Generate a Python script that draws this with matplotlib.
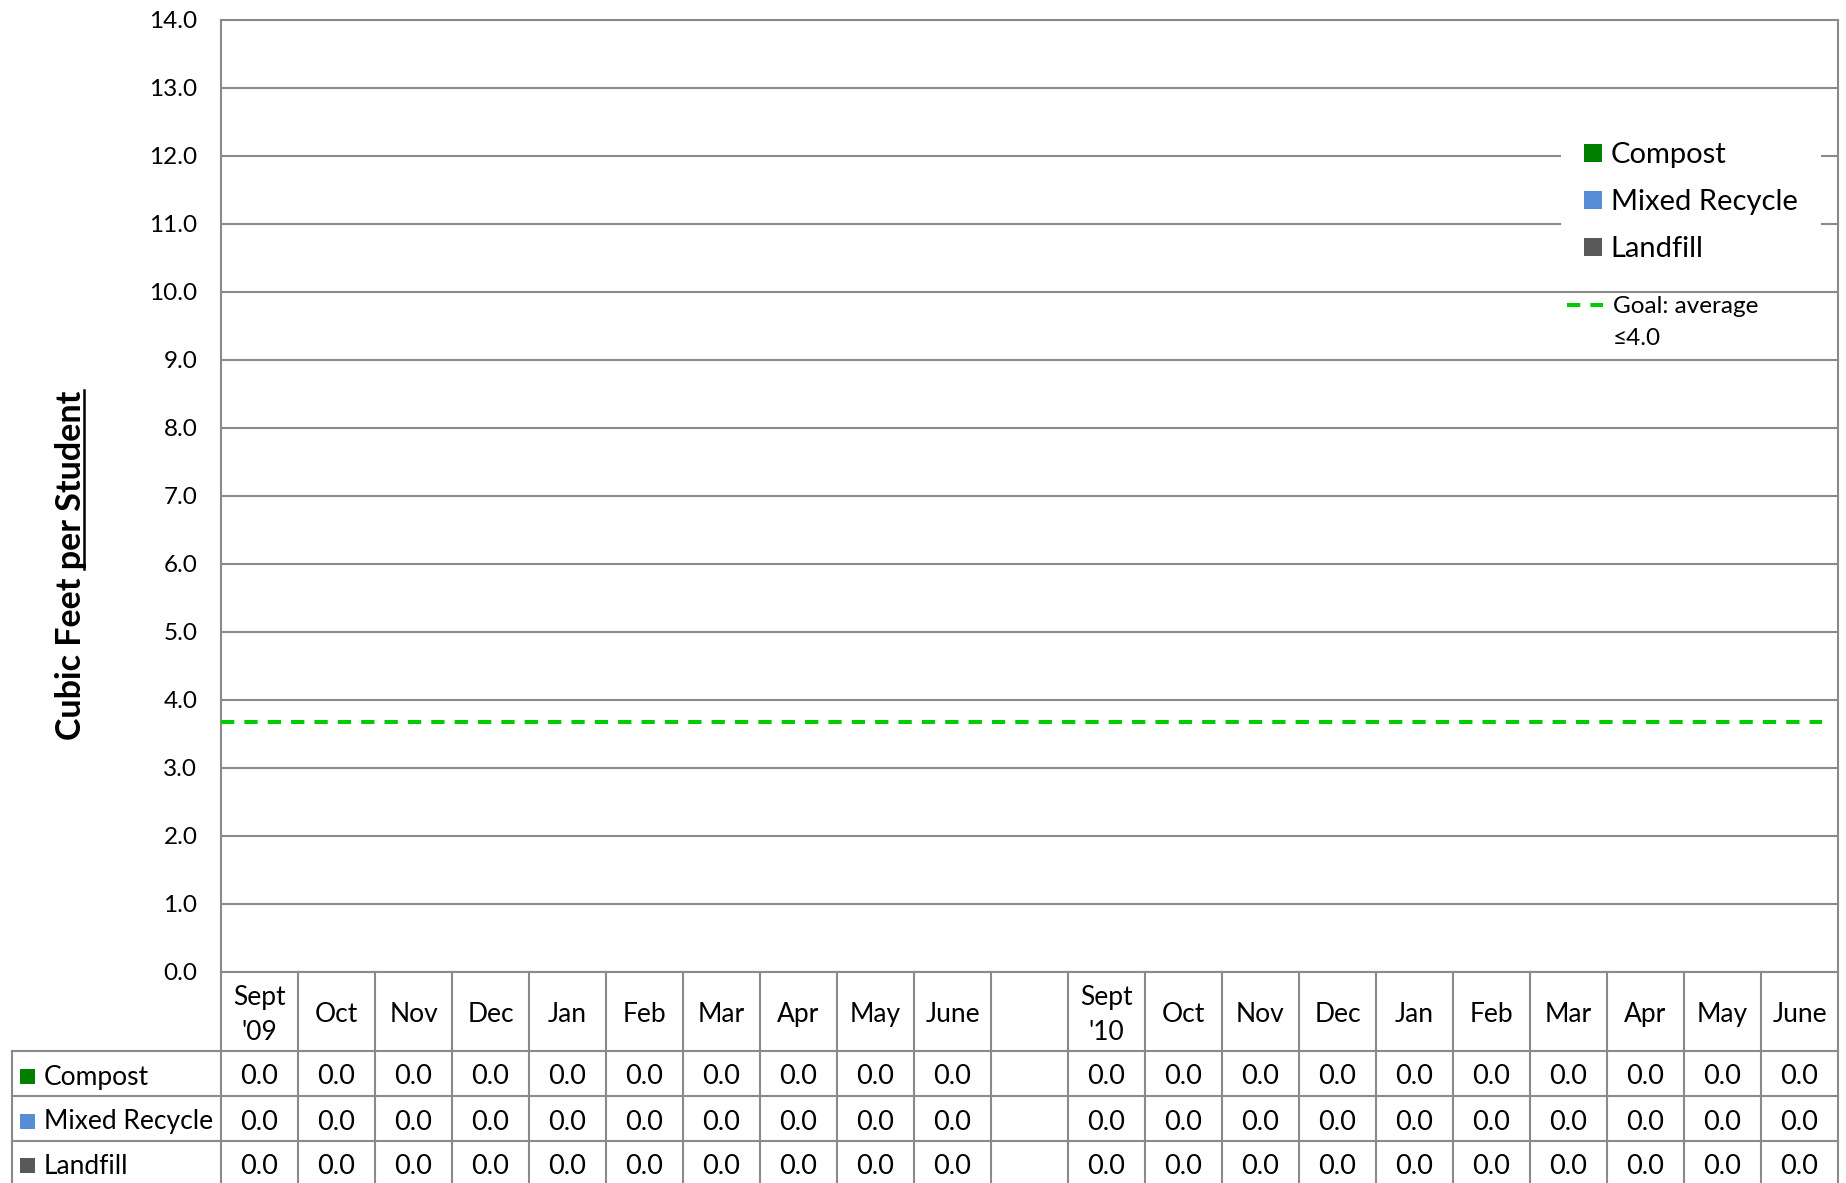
import numpy as np
import matplotlib
matplotlib.use("Agg")
import matplotlib.pyplot as plt
from matplotlib.patches import Rectangle
from matplotlib.lines import Line2D

plt.rcParams["font.family"] = ["Lato", "DejaVu Sans"]

# ---- data -------------------------------------------------------------
months = ["Sept\n'09", "Oct", "Nov", "Dec", "Jan", "Feb", "Mar", "Apr", "May", "June",
          "",
          "Sept\n'10", "Oct", "Nov", "Dec", "Jan", "Feb", "Mar", "Apr", "May", "June"]
compost = [0.0, 0.0, 0.0, 0.0, 0.0, 0.0, 0.0, 0.0, 0.0, 0.0,
           None,
           0.0, 0.0, 0.0, 0.0, 0.0, 0.0, 0.0, 0.0, 0.0, 0.0]
mixed_recycle = [0.0, 0.0, 0.0, 0.0, 0.0, 0.0, 0.0, 0.0, 0.0, 0.0,
                 None,
                 0.0, 0.0, 0.0, 0.0, 0.0, 0.0, 0.0, 0.0, 0.0, 0.0]
landfill = [0.0, 0.0, 0.0, 0.0, 0.0, 0.0, 0.0, 0.0, 0.0, 0.0,
            None,
            0.0, 0.0, 0.0, 0.0, 0.0, 0.0, 0.0, 0.0, 0.0, 0.0]
series_names = ["Compost", "Mixed Recycle", "Landfill"]
series_colors = ["#008000", "#558ED5", "#595959"]
goal_value = 3.67
goal_label = "Goal: average\n\u22644.0"
y_ticks = [0.0, 1.0, 2.0, 3.0, 4.0, 5.0, 6.0, 7.0, 8.0, 9.0, 10.0, 11.0, 12.0, 13.0, 14.0]
y_label = "Cubic Feet per Student"
y_label_underlined = "per Student"

# ---- layout helpers (pixel positions on the canvas) ----------------------
W, H, DPI = 1846, 1183, 100
GRAY = "#8a8a8a"
LW = 1.5


def fx(px):
    return px / W


def fy(py):
    return 1 - py / H


AX_L, AX_R, AX_T, AX_B = 221, 1838, 20, 972


def ay(py):
    """pixel row -> axes fraction (negative below the plot area)"""
    return (AX_B - py) / (AX_B - AX_T)


def axf(px):
    """pixel column -> axes fraction"""
    return (px - AX_L) / (AX_R - AX_L)


fig = plt.figure(figsize=(W / DPI, H / DPI), dpi=DPI)
ax = fig.add_axes([fx(AX_L), fy(AX_B), fx(AX_R) - fx(AX_L), fy(AX_T) - fy(AX_B)])

x = np.arange(len(months))
values = [np.array([np.nan if v is None else v for v in s], dtype=float)
          for s in (compost, mixed_recycle, landfill)]

# stacked bars
bottom = np.zeros(len(months))
bars = []
for vals, name, col in zip(values, series_names, series_colors):
    b = ax.bar(x, vals, width=0.55, bottom=bottom, color=col, linewidth=0, label=name)
    bars.append(b)
    bottom = bottom + np.nan_to_num(vals)

# goal line
goal_line = ax.axhline(goal_value, xmin=0, xmax=axf(1822), color="#00CC00",
                       lw=2.9, dashes=(3.3, 2.5), zorder=3)

ax.set_xlim(-0.5, len(months) - 0.5)
ax.set_ylim(y_ticks[0], y_ticks[-1])
ax.set_yticks(y_ticks)
ax.set_yticklabels([f"{t:.1f}" for t in y_ticks])
ax.set_xticks([])
ax.tick_params(axis="y", length=0, pad=17, labelsize=17.5, colors="black")
ax.grid(axis="y", color=GRAY, lw=LW)
ax.set_axisbelow(True)
for sp in ax.spines.values():
    sp.set_color(GRAY)
    sp.set_linewidth(LW)

# ---- data table below the plot ------------------------------------------
hdr_bot, r1_bot, r2_bot, tbl_bot = 1051, 1096, 1141, 1183
tbl_left = 12
xt = ax.get_xaxis_transform()

# vertical cell borders at category boundaries
for i in range(len(months) + 1):
    ax.plot([i - 0.5, i - 0.5], [0, ay(tbl_bot)], transform=xt, color=GRAY,
            lw=LW, clip_on=False)
# left border of the row-label column
ax.plot([axf(tbl_left)] * 2, [ay(hdr_bot), ay(tbl_bot)], transform=ax.transAxes,
        color=GRAY, lw=LW, clip_on=False)
# horizontal row borders
for py in (hdr_bot, r1_bot, r2_bot):
    ax.plot([axf(tbl_left), 1], [ay(py)] * 2, transform=ax.transAxes, color=GRAY,
            lw=LW, clip_on=False)

# header (category names)
for i, m in enumerate(months):
    ax.text(i, ay((AX_B + hdr_bot) / 2 + 3), m, transform=xt, ha="center", va="center",
            fontsize=19, linespacing=1.5)

row_centers = [(hdr_bot + r1_bot) / 2 + 3.5, (r1_bot + r2_bot) / 2 + 3.5,
               (r2_bot + tbl_bot) / 2 + 4.5]
sq = 15
for vals, name, col, rc in zip(values, series_names, series_colors, row_centers):
    ax.add_patch(Rectangle((axf(20), ay(rc + sq / 2 - 1)), sq / (AX_R - AX_L),
                           sq / (AX_B - AX_T), transform=ax.transAxes,
                           facecolor=col, edgecolor="none", clip_on=False))
    ax.text(axf(44), ay(rc), name, transform=ax.transAxes, ha="left", va="center",
            fontsize=19)
    for i, v in enumerate(vals):
        if not np.isnan(v):
            ax.text(i, ay(rc), f"{v:.1f}", transform=xt, ha="center", va="center",
                    fontsize=19.5)

# ---- legends --------------------------------------------------------------
leg1 = ax.legend(handles=bars, labels=series_names, loc="upper left",
                 bbox_to_anchor=(fx(1561), fy(119)), bbox_transform=fig.transFigure,
                 frameon=True, fancybox=False, edgecolor="none", facecolor="white",
                 framealpha=1, fontsize=21, handlelength=0.6, handleheight=0.6,
                 handletextpad=0.3, labelspacing=0.72, borderpad=0.8,
                 borderaxespad=0)
ax.add_artist(leg1)

leg2 = ax.legend(handles=[goal_line], labels=[goal_label], loc="upper left",
                 bbox_to_anchor=(fx(1567), fy(296)), bbox_transform=fig.transFigure,
                 frameon=False, fontsize=17.5, handlelength=1.5, handletextpad=0.4,
                 borderpad=0, borderaxespad=0)
for t in leg2.get_texts():
    t.set_linespacing(1.65)
gh = leg2.legend_handles[0]
gh.set_ydata(np.asarray(gh.get_ydata(), dtype=float) + 12.5)

# ---- y-axis title with underlined part ----------------------------------
ylab = fig.text(fx(71), fy(565), y_label, rotation=90, ha="center", va="center",
                fontsize=24.5, fontweight="bold")
fig.canvas.draw()
bb = ylab.get_window_extent()
tmp = fig.text(0, 0, y_label_underlined, fontsize=24.5, fontweight="bold")
w_ul = tmp.get_window_extent().width
tmp.remove()
ux = bb.x1 - 3
fig.add_artist(Line2D([ux / W, ux / W], [(bb.y1 - w_ul) / H, bb.y1 / H],
                      transform=fig.transFigure, color="black", lw=1.8))

fig.savefig("out.png", dpi=DPI, facecolor="white")
